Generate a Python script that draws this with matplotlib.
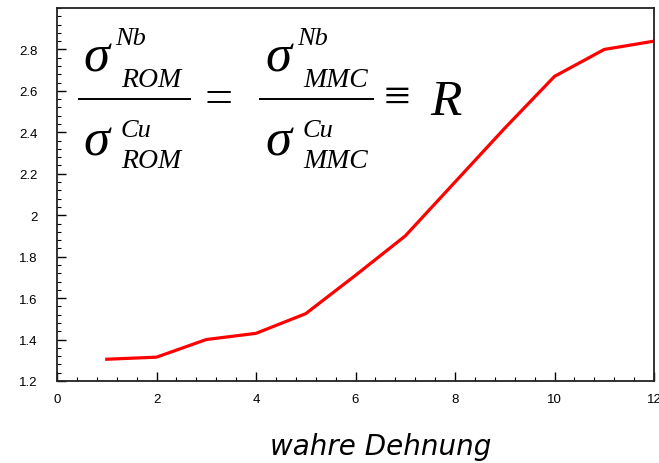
import matplotlib
matplotlib.use('Agg')
import matplotlib.pyplot as plt
from matplotlib.lines import Line2D
from matplotlib.ticker import MultipleLocator

# true strain vs. strength ratio R
strain = [1, 2, 3, 4, 5, 6, 7, 8, 9, 10, 11, 12]
ratio = [1.305, 1.315, 1.40, 1.43, 1.525, 1.71, 1.90, 2.16, 2.42, 2.67, 2.80, 2.84]

x_ticks = [0, 2, 4, 6, 8, 10, 12]
y_ticks = [1.2, 1.4, 1.6, 1.8, 2.0, 2.2, 2.4, 2.6, 2.8]
y_labels = ['1.2', '1.4', '1.6', '1.8', '2', '2.2', '2.4', '2.6', '2.8']

W, H = 659, 464
plt.rcParams['font.family'] = ['Liberation Sans', 'DejaVu Sans']

fig = plt.figure(figsize=(W / 100, H / 100), dpi=100)
ax = fig.add_axes([57/W, 1-382/H, (654-57)/W, (382-9)/H])

ax.plot(strain, ratio, color='#ff0000', linewidth=2.3)

ax.set_xlim(0, 12)
ax.set_ylim(1.2, 3.0)
ax.set_xticks(x_ticks)
ax.set_xticklabels([str(t) for t in x_ticks])
ax.set_yticks(y_ticks)
ax.set_yticklabels(y_labels)
ax.xaxis.set_minor_locator(MultipleLocator(0.4))
ax.yaxis.set_minor_locator(MultipleLocator(0.04))
ax.tick_params(which='major', direction='in', length=6.5, width=1.0,
               labelsize=9.5, top=False, right=False)
ax.tick_params(axis='y', which='major', pad=14)
ax.tick_params(axis='x', which='major', pad=9)
ax.tick_params(which='minor', direction='in', length=3, width=0.8,
               top=False, right=False)
for s in ax.spines.values():
    s.set_linewidth(1.3)
    s.set_color('#222222')


# formula, placed in pixel coordinates of the figure
def px(x, y):
    return x / W, 1 - y / H


serif = ['Liberation Serif', 'DejaVu Serif']


def put(x, y, s, size, style='normal', ha='left'):
    fig.text(*px(x, y), s, fontsize=size, style=style, family=serif,
             ha=ha, va='baseline')


def frac(x0, sub):
    put(x0 + 3, 72, 'σ', 38, 'italic')
    put(x0 + 35, 45, 'Nb', 19, 'italic')
    put(x0 + 41, 87, sub, 20, 'italic')
    put(x0 + 3, 155, 'σ', 38, 'italic')
    put(x0 + 41, 137, 'Cu', 19, 'italic')
    put(x0 + 41, 168, sub, 20, 'italic')


frac(80, 'ROM')
fig.add_artist(Line2D([79/W, 190/W], [1-100/H, 1-100/H], color='black', lw=1.4))
put(219, 113, '=', 36, ha='center')
frac(262, 'MMC')
fig.add_artist(Line2D([260/W, 373/W], [1-100/H, 1-100/H], color='black', lw=1.4))
put(397, 111, '≡', 34, ha='center')
put(430, 115, 'R', 37, 'italic')

fig.text(*px(381, 455), 'wahre Dehnung', fontsize=20, style='italic',
         family=['DejaVu Sans'], ha='center', va='baseline')

fig.savefig('out.png', dpi=100)
